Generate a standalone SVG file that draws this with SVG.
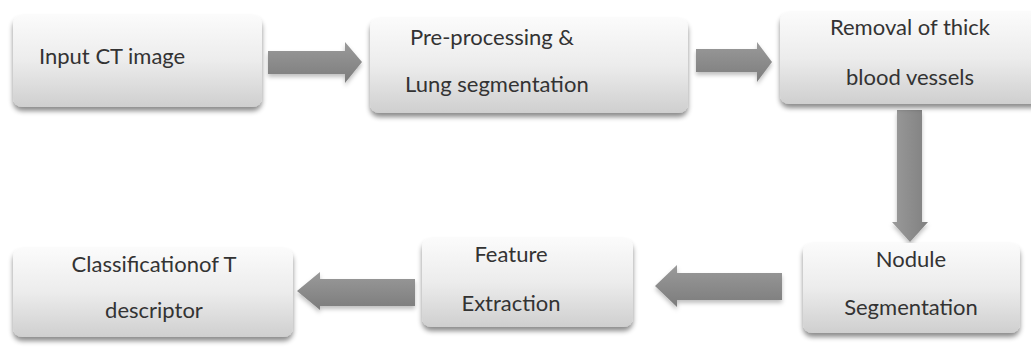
<svg xmlns="http://www.w3.org/2000/svg" width="1031" height="347" viewBox="0 0 1031 347">
<style>
  .box { fill: url(#boxGrad); filter: url(#shadow); }
  .lbl { font-family: Lato, "Liberation Sans", Arial, sans-serif; font-size: 22px; fill: #333333; }
  .mid { text-anchor: middle; }
  .arr { fill: url(#arrGradH); filter: url(#ashadow); }
  .arrv { fill: url(#arrGradV); filter: url(#ashadow); }
</style>
<defs>
  <linearGradient id="boxGrad" x1="0" y1="0" x2="0" y2="1">
    <stop offset="0" stop-color="#fbfbfb"/>
    <stop offset="0.5" stop-color="#ececec"/>
    <stop offset="1" stop-color="#cfcfcf"/>
  </linearGradient>
  <linearGradient id="arrGradH" x1="0" y1="0" x2="0" y2="1">
    <stop offset="0" stop-color="#9a9a9a"/>
    <stop offset="1" stop-color="#7c7c7c"/>
  </linearGradient>
  <linearGradient id="arrGradV" x1="0" y1="0" x2="1" y2="0">
    <stop offset="0" stop-color="#9a9a9a"/>
    <stop offset="1" stop-color="#808080"/>
  </linearGradient>
  <filter id="shadow" x="-10%" y="-10%" width="120%" height="130%">
    <feDropShadow dx="0" dy="4" stdDeviation="2.5" flood-color="#000" flood-opacity="0.45"/>
  </filter>
  <filter id="ashadow" x="-10%" y="-20%" width="120%" height="150%">
    <feDropShadow dx="0" dy="3" stdDeviation="2" flood-color="#000" flood-opacity="0.25"/>
  </filter>
</defs>
<rect width="1031" height="347" fill="#ffffff"/>

<g id="connectors">
  <polygon class="arr" points="268,51 345,51 345,42 362,62 345,83 345,74 268,74"/>
  <polygon class="arr" points="696,49 757,49 757,42 772,62 757,82 757,72 696,72"/>
  <polygon class="arrv" points="897,110 922,110 922,222 928,222 910,242 892,222 897,222"/>
  <polygon class="arr" points="782,273 677,273 677,265 655,286 677,307 677,300 782,300"/>
  <polygon class="arr" points="415,279 320,279 320,272 297,291 320,310 320,306 415,306"/>
</g>

<g id="node-input">
  <rect class="box" x="13" y="15" width="249" height="92" rx="9"/>
  <text class="lbl" x="39" y="64">Input CT image</text>
</g>
<g id="node-preprocessing">
  <rect class="box" x="370" y="18" width="318" height="95" rx="9"/>
  <text class="lbl" x="410" y="45">Pre-processing &amp;</text>
  <text class="lbl" x="405" y="92">Lung segmentation</text>
</g>
<g id="node-removal">
  <rect class="box" x="780" y="12" width="262" height="92" rx="9"/>
  <text class="lbl mid" x="910" y="35">Removal of thick</text>
  <text class="lbl mid" x="910" y="85">blood vessels</text>
</g>
<g id="node-nodule">
  <rect class="box" x="803" y="243" width="217" height="90" rx="9"/>
  <text class="lbl mid" x="911" y="267">Nodule</text>
  <text class="lbl mid" x="911" y="315">Segmentation</text>
</g>
<g id="node-feature">
  <rect class="box" x="422" y="238" width="211" height="89" rx="9"/>
  <text class="lbl mid" x="511" y="262">Feature</text>
  <text class="lbl mid" x="511" y="311">Extraction</text>
</g>
<g id="node-classification">
  <rect class="box" x="13" y="248" width="280" height="89" rx="9"/>
  <text class="lbl mid" x="154" y="272">Classificationof T</text>
  <text class="lbl mid" x="154" y="318">descriptor</text>
</g>
</svg>
